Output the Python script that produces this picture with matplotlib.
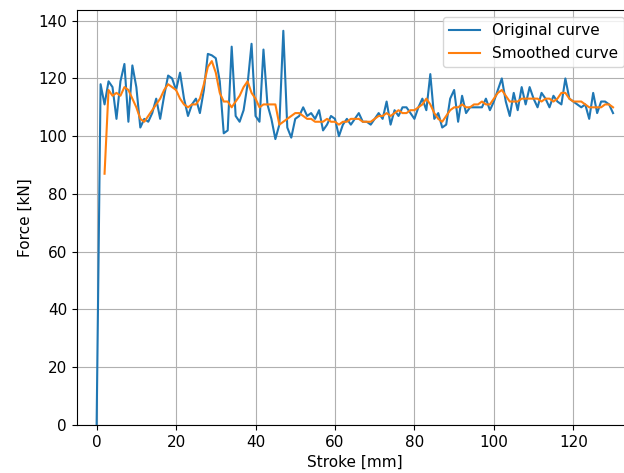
import numpy as np
import matplotlib
matplotlib.use('Agg')
import matplotlib.pyplot as plt

# original force-stroke curve, 1 mm steps
stroke = np.arange(0, 131)
force = [0, 118, 111, 119, 117, 106, 119, 125, 105, 124.5,
         117, 103, 106, 105, 108, 113, 106, 114, 121, 120,
         116, 122, 113, 107, 111, 113, 108, 116, 128.5, 128,
         127, 119, 101, 102, 131, 107, 105, 109, 118, 132,
         107, 105, 130, 111, 106, 99, 104, 136.5, 103, 99.5,
         106, 107, 110, 107, 108, 106, 109, 102, 104, 107,
         106, 100, 104, 106, 104, 106, 108, 105, 105, 104,
         106, 108, 106, 112, 104, 109, 107, 110, 110, 108,
         106, 110, 113, 109, 121.5, 106, 108, 103, 104, 113,
         116, 105, 114, 108, 110, 110, 110, 110, 113, 109,
         112, 116, 120, 112, 107, 115, 109, 117, 111, 117,
         113, 110, 115, 113, 110, 114, 112, 111, 120, 113,
         112, 111, 110, 111, 106, 115, 108, 112, 112, 111,
         108]

# smoothed curve starts at 2 mm
stroke_s = np.arange(2, 131)
force_s = [87, 116, 114, 115, 114, 117, 116, 113, 110, 106,
           105, 107, 109, 111, 113, 116, 118, 117, 116, 113,
           111, 110, 111, 111, 113, 118, 124, 126, 122, 115,
           112, 112, 110, 112, 114, 117, 119, 115, 113, 110,
           111, 111, 111, 111, 104, 105, 106, 107, 108, 108,
           107, 106, 106, 105, 105, 105, 106, 105, 105, 104,
           105, 105, 106, 106, 106, 105, 105, 105, 106, 107,
           107, 108, 107, 108, 109, 108, 108, 109, 109, 110,
           111, 113, 111, 108, 106, 105, 107, 109, 110, 110,
           111, 110, 110, 111, 111, 112, 111, 111, 113, 115,
           116, 114, 112, 112, 112, 113, 113, 113, 113, 113,
           112, 113, 113, 112, 113, 115, 115, 113, 112, 112,
           112, 111, 110, 110, 110, 110, 111, 111, 110]

plt.rcParams['font.size'] = 11

fig = plt.figure(figsize=(6.24, 4.73), dpi=100)
# axes run a little past the right edge (reference looks cropped there)
ax = fig.add_axes([0.123, 0.1015, 0.89, 0.878])
ax.plot(stroke, force, color='tab:blue', label='Original curve')
ax.plot(stroke_s, force_s, color='tab:orange', label='Smoothed curve')
ax.set_xlim(-5, 134.8)
ax.set_ylim(0, 143.8)
ax.set_xlabel('Stroke [mm]')
ax.set_ylabel('Force [kN]')
ax.grid(True)
ax.legend(loc='upper right')
fig.savefig('out.png')
